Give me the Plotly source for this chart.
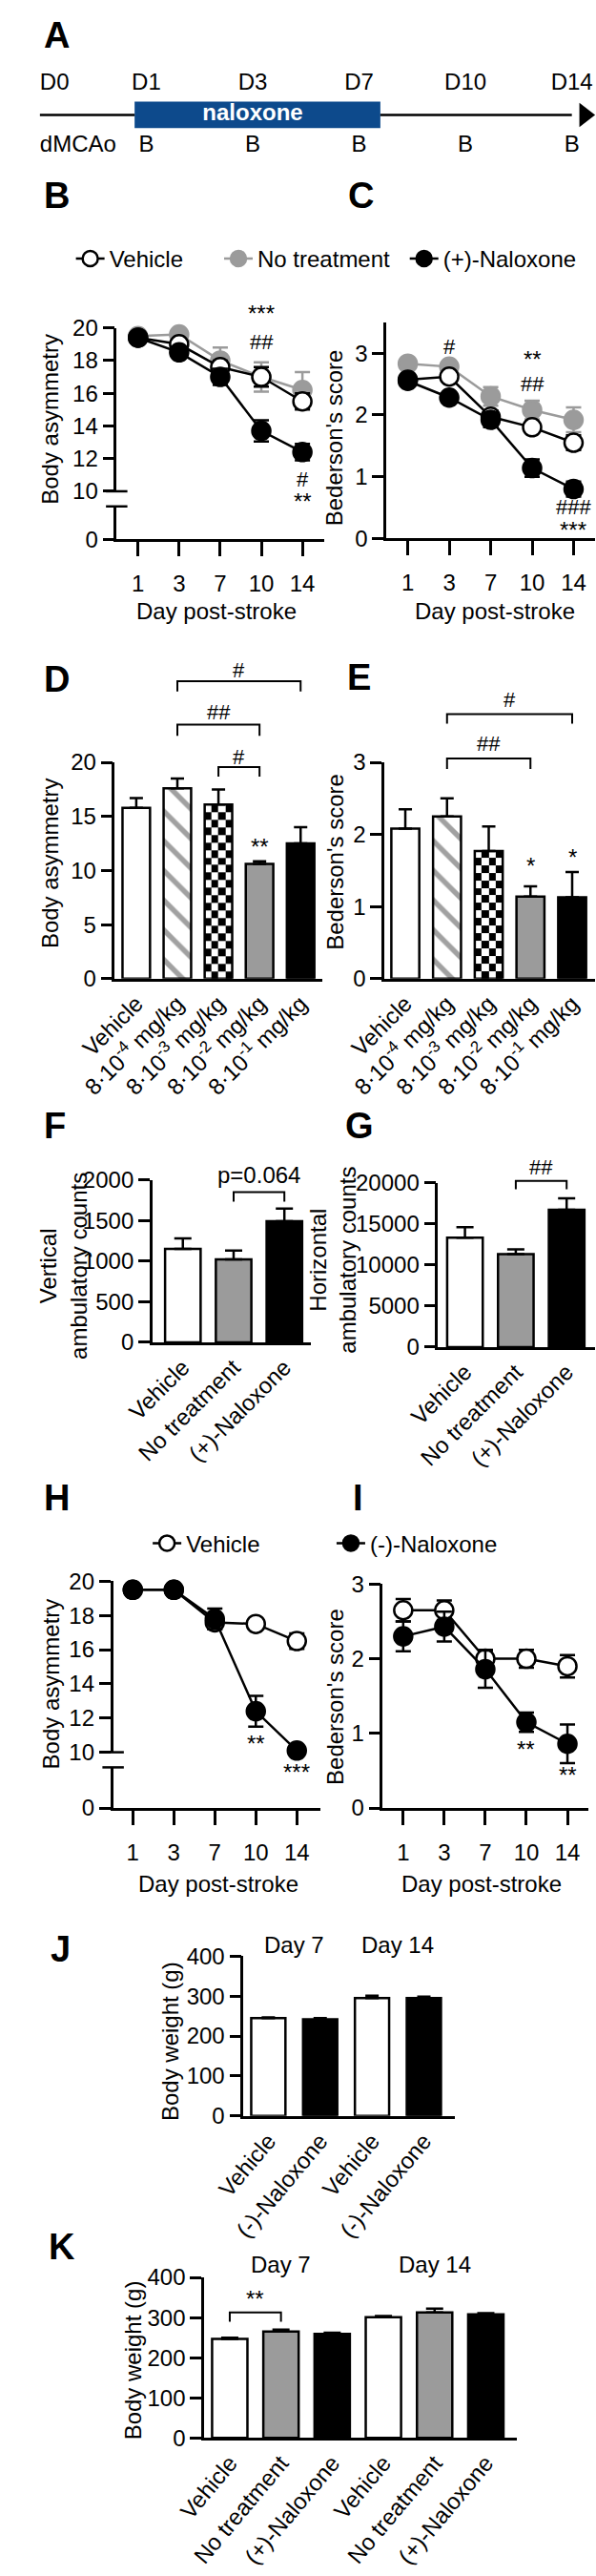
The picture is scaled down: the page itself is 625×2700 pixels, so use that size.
import numpy as np
import plotly.graph_objects as go

W, H = 625, 2700
FONT = 'Liberation Sans, Arial, sans-serif'
GREY = '#9b9b9b'
BLUE = '#0d4a8c'

# ---- data ----
# A: timeline schematic
timeline_days = ['D0', 'D1', 'D3', 'D7', 'D10', 'D14']
timeline_marks = ['dMCAo', 'B', 'B', 'B', 'B', 'B']

# B / C: (+)-naloxone time course
days = ['1', '3', '7', '10', '14']
asym_vehicle = [19.4, 19.0, 17.6, 17.0, 15.5]
asym_vehicle_err = [0.15, 0.25, 0.4, 0.6, 0.5]
asym_notreat = [19.5, 19.6, 18.0, 17.0, 16.2]
asym_notreat_err = [0.15, 0.2, 0.8, 0.9, 1.1]
asym_nalox = [19.4, 18.5, 17.0, 13.7, 12.4]
asym_nalox_err = [0.15, 0.25, 0.5, 0.65, 0.5]

bed_vehicle = [2.57, 2.62, 1.97, 1.80, 1.55]
bed_vehicle_err = [0.05, 0.06, 0.1, 0.08, 0.12]
bed_notreat = [2.83, 2.78, 2.30, 2.08, 1.92]
bed_notreat_err = [0.05, 0.06, 0.15, 0.15, 0.2]
bed_nalox = [2.55, 2.28, 1.92, 1.14, 0.80]
bed_nalox_err = [0.06, 0.06, 0.12, 0.14, 0.12]

# D / E: dose response
doses = ['Vehicle', '8·10<sup>-4</sup> mg/kg', '8·10<sup>-3</sup> mg/kg',
         '8·10<sup>-2</sup> mg/kg', '8·10<sup>-1</sup> mg/kg']
dose_asym = [15.8, 17.6, 16.1, 10.6, 12.5]
dose_asym_err = [0.9, 0.9, 1.4, 0.25, 1.5]
dose_bed = [2.08, 2.25, 1.77, 1.14, 1.13]
dose_bed_err = [0.27, 0.25, 0.34, 0.14, 0.35]

# F / G: locomotor activity
groups = ['Vehicle', 'No treatment', '(+)-Naloxone']
vert_counts = [1150, 1020, 1490]
vert_err = [130, 110, 155]
horiz_counts = [13300, 11300, 16700]
horiz_err = [1300, 600, 1400]

# H / I: (-)-naloxone time course
h_vehicle = [19.5, 19.5, 17.6, 17.5, 16.5]
h_vehicle_err = [0.1, 0.1, 0.4, 0.2, 0.45]
h_nalox = [19.5, 19.5, 17.8, 12.4, 10.1]
h_nalox_err = [0.1, 0.1, 0.6, 0.9, 0.15]
i_vehicle = [2.65, 2.65, 2.0, 2.0, 1.9]
i_vehicle_err = [0.15, 0.13, 0.12, 0.12, 0.15]
i_nalox = [2.3, 2.43, 1.86, 1.15, 0.86]
i_nalox_err = [0.2, 0.2, 0.25, 0.13, 0.26]

# J / K: body weight
j_labels = ['Vehicle', '(-)-Naloxone', 'Vehicle', '(-)-Naloxone']
j_weight = [245, 242, 295, 295]
j_err = [2, 3, 6, 4]
k_labels = ['Vehicle', 'No treatment', '(+)-Naloxone'] * 2
k_weight = [247, 265, 259, 301, 313, 308]
k_err = [3, 5, 3, 3, 9, 3]

# ---- layout helpers ----
fig = go.Figure()
layout = dict(width=W, height=H, margin=dict(l=0, r=0, t=0, b=0),
              paper_bgcolor='white', plot_bgcolor='white', showlegend=True,
              font=dict(family=FONT, size=24, color='black'))
annotations = []
shapes = []

AX = dict(showline=True, linecolor='black', linewidth=2.5, ticks='outside',
          tickcolor='black', tickwidth=2.5, ticklen=12, showgrid=False,
          zeroline=False, fixedrange=True, autorange=False, tickfont=dict(size=24))
HIDDEN = dict(showline=False, ticks='', showticklabels=False)
n_ax = [0]


def px_x(x):
    return x / W


def px_y(y):
    return 1 - y / H


def add_axes(x0, x1, ytop, ybot, xr, yr, xkw=None, ykw=None):
    n_ax[0] += 1
    s = '' if n_ax[0] == 1 else str(n_ax[0])
    layout['xaxis' + s] = {**AX, 'domain': [px_x(x0), px_x(x1)], 'range': xr,
                           'anchor': 'y' + s, **(xkw or {})}
    layout['yaxis' + s] = {**AX, 'domain': [px_y(ybot), px_y(ytop)], 'range': yr,
                           'anchor': 'x' + s, **(ykw or {})}
    return 'x' + s, 'y' + s


def add_yaxis(xa, ytop, ybot, yr, ykw=None):
    n_ax[0] += 1
    s = str(n_ax[0])
    layout['yaxis' + s] = {**AX, 'domain': [px_y(ybot), px_y(ytop)], 'range': yr,
                           'anchor': xa, **(ykw or {})}
    return 'y' + s


def text(t, x, y, size=24, xref='paper', angle=0, bold=False, xanchor='center'):
    annotations.append(dict(text=t, x=px_x(x) if xref == 'paper' else x, xref=xref,
                            y=px_y(y), yref='paper', showarrow=False, textangle=angle,
                            xanchor=xanchor, yanchor='middle',
                            font=dict(size=size, weight='bold' if bold else 'normal')))


def bracket(xref, x0, x1, ytop, ybot):
    shapes.append(dict(type='path', xref=xref, yref='paper',
                       path=f'M{x0},{px_y(ybot)} L{x0},{px_y(ytop)} L{x1},{px_y(ytop)} L{x1},{px_y(ybot)}',
                       line=dict(color='black', width=2)))


def cap(x, y):
    shapes.append(dict(type='line', xref='paper', yref='paper', x0=px_x(x - 12), x1=px_x(x + 12),
                       y0=px_y(y), y1=px_y(y), line=dict(color='black', width=2.5)))


def anchor_trace(xa, ya):
    # invisible point so that the lower (broken) y-axis gets its own subplot
    return go.Scatter(x=[0], y=[0], mode='markers', marker=dict(opacity=0), xaxis=xa, yaxis=ya,
                      showlegend=False, hoverinfo='skip')


def line_trace(y, err, fill, color, name, xa, ya, legend=None):
    return go.Scatter(x=list(range(len(y))), y=y, mode='lines+markers', name=name,
                      xaxis=xa, yaxis=ya, line=dict(color=color, width=2.5),
                      marker=dict(size=19, color=fill, line=dict(color=color, width=2.5)),
                      error_y=dict(type='data', array=err, color=color, thickness=2.5, width=8),
                      showlegend=legend is not None, legend=legend or 'legend', cliponaxis=False)


def bar_trace(y, err, colors, xa, ya, width, shapes_=None, cap_w=7):
    marker = dict(color=colors, line=dict(color='black', width=2.5))
    if shapes_:
        marker['pattern'] = dict(shape=shapes_, fgcolor='black', bgcolor='white', size=22, solidity=0.25)
    return go.Bar(x=list(range(len(y))), y=y, width=width, marker=marker, xaxis=xa, yaxis=ya,
                  error_y=dict(type='data', array=err, arrayminus=[0] * len(y), symmetric=False,
                               color='black', thickness=2.5, width=cap_w),
                  showlegend=False)


def checker(xa, ya, xc, val, width, step, ncol=4):
    xe = np.linspace(xc - width / 2, xc + width / 2, ncol + 1)
    nrow = int(np.ceil(val / step))
    ye = np.minimum(np.arange(nrow + 1) * step, val)
    z = [[(r + c) % 2 for c in range(ncol)] for r in range(nrow)]
    return go.Heatmap(x=xe, y=ye, z=z, xaxis=xa, yaxis=ya, zmin=0, zmax=1,
                      colorscale=[[0, 'white'], [1, 'black']], showscale=False, hoverinfo='skip')


def legend_cfg(x, y):
    return dict(x=px_x(x), y=px_y(y), xanchor='left', yanchor='middle', orientation='h',
                font=dict(size=24), bgcolor='rgba(0,0,0,0)', borderwidth=0, itemwidth=30)


# ---- A: timeline ----
slots = list(range(len(timeline_days)))
xa, ya = add_axes(0, W, 68.5, 146.5, [-0.0168, 5.227], [-1.2, 1.2], xkw=HIDDEN, ykw=HIDDEN)
box0, box1 = slots[1] - 0.11, slots[3] + 0.2
fig.add_trace(go.Bar(orientation='h', y=[0], base=[box0], x=[box1 - box0], width=[0.86],
                     marker=dict(color=BLUE, line=dict(width=0)), xaxis=xa, yaxis=ya, showlegend=False))
fig.add_trace(go.Scatter(x=[slots[0], box0, None, box1, slots[-1]], y=[0, 0, None, 0, 0], mode='lines',
                         line=dict(color='black', width=2.5), xaxis=xa, yaxis=ya, showlegend=False))
fig.add_trace(go.Scatter(x=[slots[-1] + 0.12], y=[0], mode='markers',
                         marker=dict(symbol='triangle-right', size=22, color='black'),
                         xaxis=xa, yaxis=ya, showlegend=False, cliponaxis=False))
fig.add_trace(go.Scatter(x=[(slots[1] + slots[3]) / 2], y=[0], mode='text', text=['naloxone'],
                         textfont=dict(color='white', size=24, weight='bold'),
                         xaxis=xa, yaxis=ya, showlegend=False))
tpos = ['middle right'] + ['middle center'] * (len(slots) - 1)
fig.add_trace(go.Scatter(x=slots, y=[1] * len(slots), mode='text', text=timeline_days,
                         textposition=tpos, textfont=dict(size=24), xaxis=xa, yaxis=ya,
                         showlegend=False, cliponaxis=False))
fig.add_trace(go.Scatter(x=slots, y=[-1] * len(slots), mode='text', text=timeline_marks,
                         textposition=tpos, textfont=dict(size=24), xaxis=xa, yaxis=ya,
                         showlegend=False, cliponaxis=False))

# ---- B ----
day_ticks = dict(tickvals=list(range(5)), ticktext=days, ticklen=15, ticklabelstandoff=8)
xb, yb_low = add_axes(88, 320, 522, 557, [-0.52, 4.52], [0, 2.0], xkw=day_ticks, ykw=dict(tickvals=[0]))
yb = add_yaxis(xb, 333, 506, [10, 20], dict(tickvals=[10, 12, 14, 16, 18, 20]))
cap(88, 506)
cap(88, 522)
fig.add_trace(anchor_trace(xb, yb_low))
fig.add_trace(line_trace(asym_notreat, asym_notreat_err, GREY, GREY, 'No treatment', xb, yb, 'legend2'))
fig.add_trace(line_trace(asym_vehicle, asym_vehicle_err, 'white', 'black', 'Vehicle', xb, yb, 'legend'))
fig.add_trace(line_trace(asym_nalox, asym_nalox_err, 'black', 'black', '(+)-Naloxone', xb, yb, 'legend3'))
text('***', 3, 318, xref=xb)
text('##', 3, 348, 22, xref=xb)
text('#', 4, 493, 22, xref=xb)
text('**', 4, 517, xref=xb)

# ---- C ----
xc, yc = add_axes(390, 624, 327, 556, [-0.52, 4.52], [0, 3.5], xkw=day_ticks, ykw=dict(tickvals=[0, 1, 2, 3]))
fig.add_trace(line_trace(bed_notreat, bed_notreat_err, GREY, GREY, 'No treatment', xc, yc))
fig.add_trace(line_trace(bed_vehicle, bed_vehicle_err, 'white', 'black', 'Vehicle', xc, yc))
fig.add_trace(line_trace(bed_nalox, bed_nalox_err, 'black', 'black', '(+)-Naloxone', xc, yc))
text('#', 1, 353, 22, xref=xc)
text('**', 3, 366, xref=xc)
text('##', 3, 392, 22, xref=xc)
text('###', 4, 523, 22, xref=xc)
text('***', 4, 547, xref=xc)

# ---- D ----
dose_ticks = dict(tickvals=list(range(5)), ticktext=doses, ticks='', tickangle=-45)
xd, yd = add_axes(86, 318, 793, 1022, [-0.52, 4.52], [0, 20], xkw=dose_ticks,
                  ykw=dict(tickvals=[0, 5, 10, 15, 20]))
fig.add_trace(checker(xd, yd, 2, dose_asym[2], 0.67, 0.7))
fig.add_trace(bar_trace(dose_asym, dose_asym_err, ['white', 'white', 'rgba(0,0,0,0)', GREY, 'black'],
                        xd, yd, 0.67, ['', '\\', '', '', '']))
text('**', 3, 882, xref=xd)
bracket(xd, 1, 4, 707, 718)
text('#', 2.5, 695, 22, xref=xd)
bracket(xd, 1, 3, 753, 765)
text('##', 2, 740, 22, xref=xd)
bracket(xd, 2, 3, 798, 808)
text('#', 2.5, 787, 22, xref=xd)

# ---- E ----
xe, ye = add_axes(388, 624, 793, 1022, [-0.5, 4.55], [0, 3], xkw=dose_ticks,
                  ykw=dict(tickvals=[0, 1, 2, 3]))
fig.add_trace(checker(xe, ye, 2, dose_bed[2], 0.67, 0.105))
fig.add_trace(bar_trace(dose_bed, dose_bed_err, ['white', 'white', 'rgba(0,0,0,0)', GREY, 'black'],
                        xe, ye, 0.67, ['', '\\', '', '', '']))
text('*', 3, 903, xref=xe)
text('*', 4, 893, xref=xe)
bracket(xe, 1, 4, 742, 752)
text('#', 2.5, 727, 22, xref=xe)
bracket(xe, 1, 3, 789, 800)
text('##', 2, 773, 22, xref=xe)

# ---- F ----
grp_ticks = dict(tickvals=list(range(3)), ticktext=groups, ticks='', tickangle=-45)
xf, yf = add_axes(128, 306, 1235, 1407, [-0.6, 2.53], [0, 2000], xkw=grp_ticks,
                  ykw=dict(tickvals=[0, 500, 1000, 1500, 2000], tickformat='d'))
fig.add_trace(bar_trace(vert_counts, vert_err, ['white', GREY, 'black'], xf, yf, 0.7, cap_w=9))
bracket(xf, 1, 2, 1248, 1258)
text('p=0.064', 1.5, 1230, xref=xf)

# ---- G ----
xg, yg = add_axes(448, 624, 1238, 1412, [-0.53, 2.56], [0, 20000], xkw=grp_ticks,
                  ykw=dict(tickvals=[0, 5000, 10000, 15000, 20000], tickformat='d'))
fig.add_trace(bar_trace(horiz_counts, horiz_err, ['white', GREY, 'black'], xg, yg, 0.7, cap_w=9))
bracket(xg, 1, 2, 1236, 1245)
text('##', 1.5, 1222, 22, xref=xg)

# ---- H ----
xh, yh_low = add_axes(84, 316, 1857, 1900, [-0.48, 4.57], [0, 2.4], xkw=day_ticks, ykw=dict(tickvals=[0]))
yh = add_yaxis(xh, 1660, 1841, [10, 20], dict(tickvals=[10, 12, 14, 16, 18, 20]))
cap(84, 1841)
cap(84, 1857)
fig.add_trace(anchor_trace(xh, yh_low))
fig.add_trace(line_trace(h_vehicle, h_vehicle_err, 'white', 'black', 'Vehicle', xh, yh, 'legend4'))
fig.add_trace(line_trace(h_nalox, h_nalox_err, 'black', 'black', '(-)-Naloxone', xh, yh, 'legend5'))
text('**', 3, 1832, xref=xh)
text('***', 4, 1862, xref=xh)

# ---- I ----
xi, yi = add_axes(386, 616, 1663, 1900, [-0.5, 4.5], [0, 3], xkw=day_ticks, ykw=dict(tickvals=[0, 1, 2, 3]))
fig.add_trace(line_trace(i_vehicle, i_vehicle_err, 'white', 'black', 'Vehicle', xi, yi))
fig.add_trace(line_trace(i_nalox, i_nalox_err, 'black', 'black', '(-)-Naloxone', xi, yi))
text('**', 3, 1838, xref=xi)
text('**', 4, 1865, xref=xi)

# ---- J ----
xj, yj = add_axes(230, 467, 2057, 2226, [-0.48, 3.6], [0, 400],
                  xkw=dict(tickvals=list(range(4)), ticktext=j_labels, ticks='', tickangle=-50),
                  ykw=dict(tickvals=[0, 100, 200, 300, 400]))
fig.add_trace(bar_trace(j_weight, j_err, ['white', 'black', 'white', 'black'], xj, yj, 0.66))
text('Day 7', 0.5, 2045, xref=xj)
text('Day 14', 2.5, 2045, xref=xj)

# ---- K ----
xk, yk = add_axes(186, 536, 2397, 2567, [-0.5, 5.6], [0, 400],
                  xkw=dict(tickvals=list(range(6)), ticktext=k_labels, ticks='', tickangle=-50),
                  ykw=dict(tickvals=[0, 100, 200, 300, 400]))
fig.add_trace(bar_trace(k_weight, k_err, ['white', GREY, 'black'] * 2, xk, yk, 0.69, cap_w=9))
bracket(xk, 0, 1, 2434, 2444)
text('**', 0.5, 2420, xref=xk)
text('Day 7', 1, 2383, xref=xk)
text('Day 14', 4, 2383, xref=xk)

# ---- axis titles ----
for t, x, y in [('Body asymmetry', 14, 430), ("Bederson's score", 332, 449),
                ('Body asymmetry', 14, 900), ("Bederson's score", 332, 898),
                ('Vertical<br>ambulatory counts', 28, 1326), ('Horizontal<br>ambulatory counts', 330, 1320),
                ('Body asymmetry', 14, 1769), ("Bederson's score", 332, 1782),
                ('Body weight (g)', 148, 2147), ('Body weight (g)', 106, 2485)]:
    text(t, x, y, angle=-90)
for x, y in [(200, 633), (512, 633), (202, 1980), (497, 1980)]:
    text('Day post-stroke', x, y)

# ---- panel letters ----
for t, x, y in [('A', 4, 23), ('B', 4, 193), ('C', 345, 193), ('D', 4, 705), ('E', 344, 703),
                ('F', 4, 1178), ('G', 342, 1178), ('H', 4, 1572), ('I', 350, 1572),
                ('J', 12, 2049), ('K', 10, 2365)]:
    text(t, x, y, 38, bold=True, xanchor='left')

layout['legend'] = legend_cfg(37, 260)
layout['legend2'] = legend_cfg(203, 260)
layout['legend3'] = legend_cfg(411, 260)
layout['legend4'] = legend_cfg(123, 1620)
layout['legend5'] = legend_cfg(329, 1620)
layout['annotations'] = annotations
layout['shapes'] = shapes
fig.update_layout(**layout)

# the page body has a default 8px margin; drop it so the figure fills the window exactly
fig.write_html("out.html", config={'displayModeBar': False},
               post_script="document.body.style.margin='0';")
